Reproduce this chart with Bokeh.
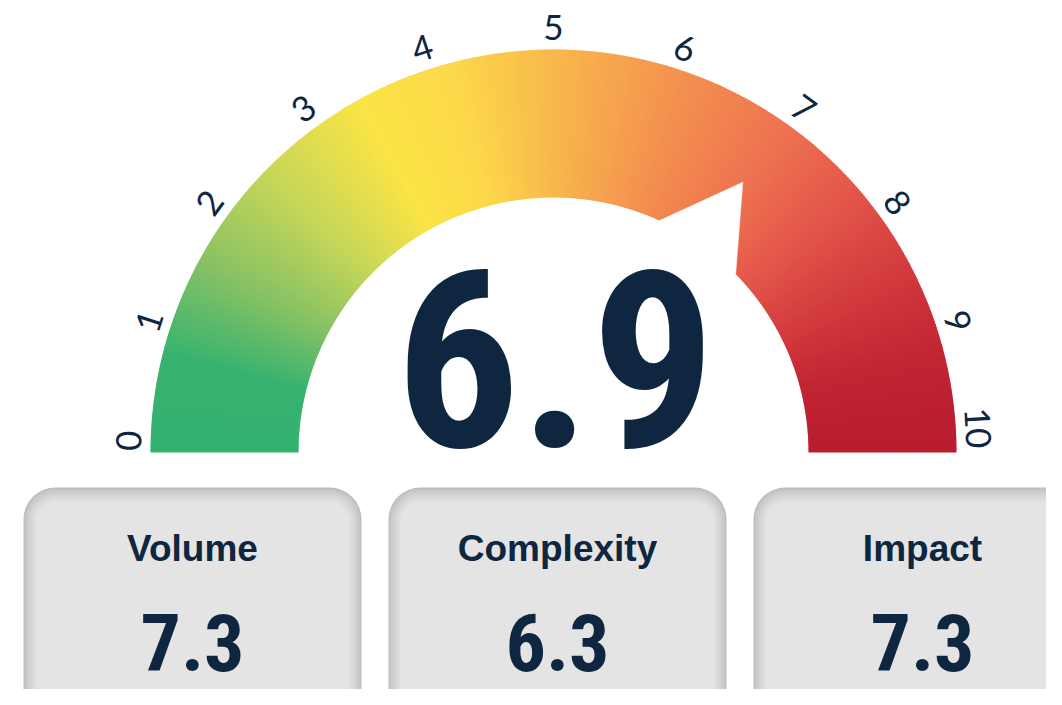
import numpy as np
from bokeh.plotting import figure
from bokeh.models import Range1d, ColumnDataSource
from bokeh.core.properties import value
from bokeh.embed import file_html
from bokeh.resources import INLINE

# ---------------- data ----------------
gauge_value = 6.9
gauge_min, gauge_max = 0, 10
tick_values = [0, 1, 2, 3, 4, 5, 6, 7, 8, 9, 10]
tick_labels = ["0", "1", "2", "3", "4", "5", "6", "7", "8", "9", "10"]
categories = ["Volume", "Complexity", "Impact"]
category_scores = [7.3, 6.3, 7.3]

# colour ramp of the gauge (value -> colour)
stop_values = [0.0, 0.8, 1.6, 2.5, 3.4, 4.2, 5.0, 6.0, 7.0, 7.7, 8.5, 9.2, 10.0]
stop_colors = ["#33b26f", "#38b36f", "#88c264", "#c8d758", "#fbe445", "#fcd84a",
               "#f8b84c", "#f4934f", "#ee7250", "#e4574a", "#d23a3d", "#c22533", "#b81d2e"]

NAVY = "#0e2640"
NARROW = ("Noto Sans ExtraCondensed, Noto Sans Extra Condensed, "
          "Noto Sans Display ExtraCondensed, Noto Sans Condensed, Roboto Condensed, Roboto")

# ---------------- geometry (screen-pixel data units, y up) ----------------
CX, CY = 553.0, 253.0
R_IN, R_OUT, R_LAB = 255.0, 403.0, 425.0


def theta(v):
    return np.pi * (1.0 - (np.asarray(v, dtype=float) - gauge_min) / (gauge_max - gauge_min))


def hex2rgb(h):
    return [int(h[i:i + 2], 16) for i in (1, 3, 5)]


def ramp(vals, sv, sc):
    rgb = np.array([hex2rgb(c) for c in sc], dtype=float)
    out = []
    for v in np.atleast_1d(vals):
        r, g, b = (np.interp(v, sv, rgb[:, k]) for k in range(3))
        out.append("#%02x%02x%02x" % (int(round(r)), int(round(g)), int(round(b))))
    return out


p = figure(width=1046, height=689, output_backend="svg", toolbar_location=None,
           x_range=Range1d(0, 1046), y_range=Range1d(16, 705), min_border=0,
           background_fill_color="white", border_fill_color="white")
p.axis.visible = False
p.grid.visible = False
p.outline_line_color = None

# ---------------- gauge arc (gradient made of thin annular wedges) ----------------
n_seg = 420
edges = np.linspace(gauge_min, gauge_max, n_seg + 1)
mids = 0.5 * (edges[:-1] + edges[1:])
starts = theta(edges[1:])
ends = np.minimum(theta(edges[:-1]) + 0.003, np.pi)
arc_src = ColumnDataSource(dict(x=[CX] * n_seg, y=[CY] * n_seg, start=starts, end=ends,
                                color=ramp(mids, stop_values, stop_colors)))
p.annular_wedge(x="x", y="y", inner_radius=R_IN, outer_radius=R_OUT,
                start_angle="start", end_angle="end", fill_color="color",
                line_color=None, source=arc_src)

# ---------------- pointer (white notch toward the value) ----------------
t = float(theta(gauge_value))
p1 = (CX + R_IN * np.cos(t + 0.168), CY + R_IN * np.sin(t + 0.168))
tip = (CX + 330 * np.cos(t - 0.014), CY + 330 * np.sin(t - 0.014))
p2 = (CX + R_IN * np.cos(t - 0.199), CY + R_IN * np.sin(t - 0.199))
p.patch(x=[CX, p1[0], tip[0], p2[0]], y=[CY, p1[1], tip[1], p2[1]],
        fill_color="white", line_color="white", line_width=0.5)

# ---------------- tick labels ----------------
lab_t = np.clip(theta(tick_values), np.radians(3.3), np.radians(178.4))
lab_src = ColumnDataSource(dict(x=CX + R_LAB * np.cos(lab_t), y=CY + R_LAB * np.sin(lab_t),
                                text=tick_labels, angle=lab_t - np.pi / 2))
p.text(x="x", y="y", text="text", angle="angle", source=lab_src,
       text_font=value("Lato"), text_font_size="35px", text_color=NAVY,
       text_align="center", text_baseline="middle")

# ---------------- big value ----------------
p.text(x=[555], y=[346.5], text=[f"{gauge_value:.1f}"], text_font=value(NARROW),
       text_font_size="246px", text_font_style="bold", text_color=NAVY,
       text_align="center", text_baseline="middle")

# ---------------- category boxes ----------------
box_w, box_step, box_left0 = 338.0, 365.0, 23.0
lefts = np.array([box_left0 + i * box_step for i in range(len(categories))])
rights = lefts + box_w
top, bottom = 218.0, -40.0
n_layers = 14
shade = ramp(np.linspace(0, 1, n_layers) ** 0.7, [0, 1], ["#bdbdbd", "#e4e4e4"])
for i in range(n_layers):
    inset = i * 1.0
    p.quad(left=lefts + inset, right=rights - inset, top=top - inset * 1.15, bottom=bottom,
           fill_color=shade[i], line_color=None, border_radius=int(max(32 - i, 4)))

centers = (lefts + rights) / 2
p.text(x=centers, y=[157] * len(categories), text=categories,
       text_font=value("Liberation Sans"), text_font_size="37px", text_font_style="bold",
       text_color=NAVY, text_align="center", text_baseline="middle")
p.text(x=centers, y=[63.5] * len(categories), text=[f"{s:.1f}" for s in category_scores],
       text_font=value(NARROW), text_font_size="80px", text_font_style="bold",
       text_color=NAVY, text_align="center", text_baseline="middle")

open("out.html", "w").write(file_html(p, INLINE))
